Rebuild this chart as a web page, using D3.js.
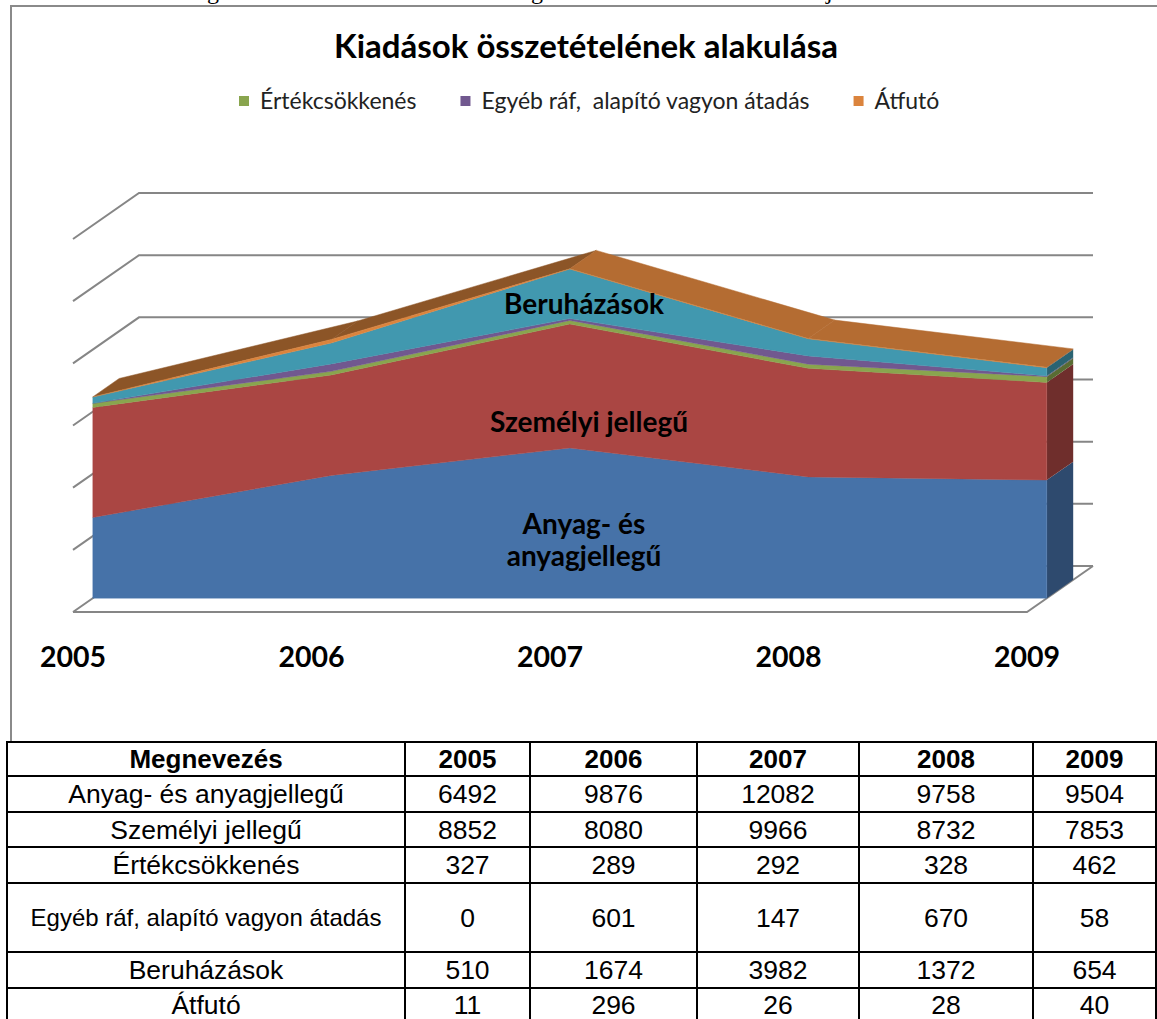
<!DOCTYPE html>
<html lang="hu">
<head>
<meta charset="UTF-8">
<title>Kiadások összetételének alakulása</title>
<script src="https://cdn.jsdelivr.net/npm/d3@7"></script>
<style>
  body { margin: 0; background: #fff; }
  svg { display: block; }
  .chart-text { font-family: Lato, "Open Sans", sans-serif; }
  .table-text { font-family: "Liberation Sans", Arial, sans-serif; }
</style>
</head>
<body>
<div id="chart"></div>
<script>
// values from the table under the chart
var years = ["2005", "2006", "2007", "2008", "2009"];
var seriesNames = ["Anyag- és anyagjellegű", "Személyi jellegű", "Értékcsökkenés",
                   "Egyéb ráf, alapító vagyon átadás", "Beruházások", "Átfutó"];
var anyag = [6492, 9876, 12082, 9758, 9504];
var szemelyi = [8852, 8080, 9966, 8732, 7853];
var ertekcsokkenes = [327, 289, 292, 328, 462];
var egyeb = [0, 601, 147, 670, 58];
var beruhazasok = [510, 1674, 3982, 1372, 654];
var atfuto = [11, 296, 26, 28, 40];
var colors = ["#4672a8", "#aa4643", "#89a54e", "#71588f", "#4198af", "#db843d"];

var title = "Kiadások összetételének alakulása";
var legendNames = ["Értékcsökkenés", "Egyéb ráf,  alapító vagyon átadás", "Átfutó"];
var legendSeries = [2, 3, 5];

var W = 1157, H = 1019;
var svg = d3.select("#chart").append("svg")
    .attr("width", W)
    .attr("height", H);

// caption line above is cut off, only descenders show
svg.append("g")
    .attr("font-family", "'Liberation Serif', serif")
    .attr("font-size", 24)
    .selectAll("text")
    .data([["g", 207], ["g", 531], ["j", 826]])
    .join("text")
    .attr("x", function (d) { return d[1]; })
    .attr("y", -1)
    .text(function (d) { return d[0]; });

// chart frame
svg.append("rect")
    .attr("x", 11).attr("y", 6)
    .attr("width", W + 20).attr("height", 740)
    .attr("fill", "#fff")
    .attr("stroke", "#8a8a8a")
    .attr("stroke-width", 2);

// scales: front plane of the floor, depth goes up-right
var x = d3.scalePoint().domain(years).range([73, 1027]);
var y = d3.scaleLinear().domain([0, 30000]).range([612, 239]);
var DX = 66, DY = -46;
var zFront = 0.3, zBack = 0.7;
function px(year, z) { return x(year) + z * DX; }
function py(v, z) { return y(v) + z * DY; }

var first = years[0], last = years[years.length - 1];

// walls / gridlines
var grid = svg.append("g")
    .attr("fill", "none")
    .attr("stroke", "#868686")
    .attr("stroke-width", 2);

grid.selectAll("path.gl")
    .data(y.ticks(6))
    .join("path")
    .attr("class", "gl")
    .attr("d", function (v) {
        return "M" + px(first, 0) + "," + py(v, 0) +
            "L" + px(first, 1) + "," + py(v, 1) +
            "L" + px(last, 1) + "," + py(v, 1);
    });

grid.append("path")
    .attr("d", "M" + px(first, 0) + "," + py(0, 0) +
        "L" + px(last, 0) + "," + py(0, 0) +
        "L" + px(last, 1) + "," + py(0, 1));

// stack the series
var rows = years.map(function (yr, i) {
    return { year: yr, s0: anyag[i], s1: szemelyi[i], s2: ertekcsokkenes[i],
             s3: egyeb[i], s4: beruhazasok[i], s5: atfuto[i] };
});
var stacked = d3.stack().keys(["s0", "s1", "s2", "s3", "s4", "s5"])(rows);
var topSeries = stacked[stacked.length - 1];

function topShade(p) {
    var rising = p[1][1] > p[0][1];
    return d3.color(colors[5]).darker(rising ? 1.25 : 0.55);
}

// top surface of the stack
svg.append("g").selectAll("path")
    .data(d3.pairs(topSeries))
    .join("path")
    .attr("d", function (p) {
        var a = p[0], b = p[1];
        return "M" + px(a.data.year, zFront) + "," + py(a[1], zFront) +
            "L" + px(b.data.year, zFront) + "," + py(b[1], zFront) +
            "L" + px(b.data.year, zBack) + "," + py(b[1], zBack) +
            "L" + px(a.data.year, zBack) + "," + py(a[1], zBack) + "Z";
    })
    .attr("fill", topShade)
    .attr("stroke", topShade)
    .attr("stroke-width", 0.5);

// right side face at the last year
svg.append("g").selectAll("path")
    .data(stacked)
    .join("path")
    .attr("d", function (s) {
        var d = s[s.length - 1];
        return "M" + px(last, zFront) + "," + py(d[0], zFront) +
            "L" + px(last, zFront) + "," + py(d[1], zFront) +
            "L" + px(last, zBack) + "," + py(d[1], zBack) +
            "L" + px(last, zBack) + "," + py(d[0], zBack) + "Z";
    })
    .attr("fill", function (s, i) { return d3.color(colors[i]).darker(1.2); });

// front faces
var area = d3.area()
    .x(function (d) { return px(d.data.year, zFront); })
    .y0(function (d) { return py(d[0], zFront); })
    .y1(function (d) { return py(d[1], zFront); });

svg.append("g").selectAll("path")
    .data(stacked)
    .join("path")
    .attr("d", area)
    .attr("fill", function (s, i) { return colors[i]; })
    .attr("stroke", function (s, i) { return colors[i]; })
    .attr("stroke-width", 0.4);

// labels inside the areas (at 2007, mid depth)
var inner = [
    { lines: ["Beruházások"], v: 23700, dx: 1 },
    { lines: ["Személyi jellegű"], v: 14150, dx: 6 },
    { lines: ["Anyag- és", "anyagjellegű"], v: 4700, dx: 1 }
];
var lab = svg.append("g")
    .attr("class", "chart-text")
    .attr("font-weight", "bold")
    .attr("font-size", 28)
    .attr("text-anchor", "middle")
    .attr("fill", "#000");
inner.forEach(function (l) {
    var n = l.lines.length;
    l.lines.forEach(function (t, k) {
        lab.append("text")
            .attr("x", px("2007", 0.5) + l.dx)
            .attr("y", py(l.v, zFront) + 10 + (k - (n - 1) / 2) * 32)
            .text(t);
    });
});

// category axis
svg.append("g")
    .attr("class", "chart-text")
    .attr("font-weight", "bold")
    .attr("font-size", 28.5)
    .attr("text-anchor", "middle")
    .selectAll("text")
    .data(years)
    .join("text")
    .attr("x", function (d) { return x(d); })
    .attr("y", 667)
    .text(function (d) { return d; });

// title
svg.append("text")
    .attr("class", "chart-text")
    .attr("x", 586).attr("y", 58)
    .attr("text-anchor", "middle")
    .attr("font-weight", "bold")
    .attr("font-size", 33)
    .attr("fill", "#000")
    .text(title);

// legend
var leg = svg.append("g").attr("class", "chart-text").attr("font-size", 23).attr("fill", "#222");
var lx = 239;
legendNames.forEach(function (name, i) {
    leg.append("rect")
        .attr("x", lx).attr("y", 96)
        .attr("width", 10).attr("height", 10)
        .attr("fill", colors[legendSeries[i]]);
    var t = leg.append("text")
        .attr("x", lx + 21).attr("y", 109)
        .style("white-space", "pre")
        .text(name);
    lx += 21 + t.node().getComputedTextLength() + 44;
});

// data table under the chart
var colEdges = [7, 405, 530, 697, 859, 1033, 1156];
var rowEdges = [742, 776, 812, 847, 883, 952, 988, 1022];
var tableValues = [anyag, szemelyi, ertekcsokkenes, egyeb, beruhazasok, atfuto];
var header = ["Megnevezés"].concat(years);

var tbl = svg.append("g").attr("class", "table-text");
tbl.append("rect")
    .attr("x", colEdges[0]).attr("y", rowEdges[0])
    .attr("width", colEdges[6] - colEdges[0])
    .attr("height", rowEdges[7] - rowEdges[0])
    .attr("fill", "#fff");

function cx(c) { return (colEdges[c] + colEdges[c + 1]) / 2; }
function cy(r) { return (rowEdges[r] + rowEdges[r + 1]) / 2; }

tbl.selectAll("text.h")
    .data(header)
    .join("text")
    .attr("class", "h")
    .attr("x", function (d, c) { return cx(c); })
    .attr("y", cy(0) + 9)
    .attr("text-anchor", "middle")
    .attr("font-weight", "bold")
    .attr("font-size", 26)
    .text(function (d) { return d; });

seriesNames.forEach(function (name, r) {
    var small = r === 3;
    tbl.append("text")
        .attr("x", cx(0))
        .attr("y", cy(r + 1) + (small ? 8 : 9))
        .attr("text-anchor", "middle")
        .attr("font-size", small ? 24 : 26.5)
        .text(name);
    tbl.selectAll(null)
        .data(tableValues[r])
        .join("text")
        .attr("x", function (d, c) { return cx(c + 1); })
        .attr("y", cy(r + 1) + 9)
        .attr("text-anchor", "middle")
        .attr("font-size", 26.5)
        .text(function (d) { return d; });
});

tbl.selectAll("line.v")
    .data(colEdges)
    .join("line")
    .attr("class", "v")
    .attr("x1", function (d) { return d; }).attr("x2", function (d) { return d; })
    .attr("y1", rowEdges[0]).attr("y2", rowEdges[7])
    .attr("stroke", "#000").attr("stroke-width", 2);

tbl.selectAll("line.r")
    .data(rowEdges)
    .join("line")
    .attr("class", "r")
    .attr("x1", colEdges[0] - 1).attr("x2", colEdges[6] + 1)
    .attr("y1", function (d) { return d; }).attr("y2", function (d) { return d; })
    .attr("stroke", "#000").attr("stroke-width", 2);
</script>
</body>
</html>
